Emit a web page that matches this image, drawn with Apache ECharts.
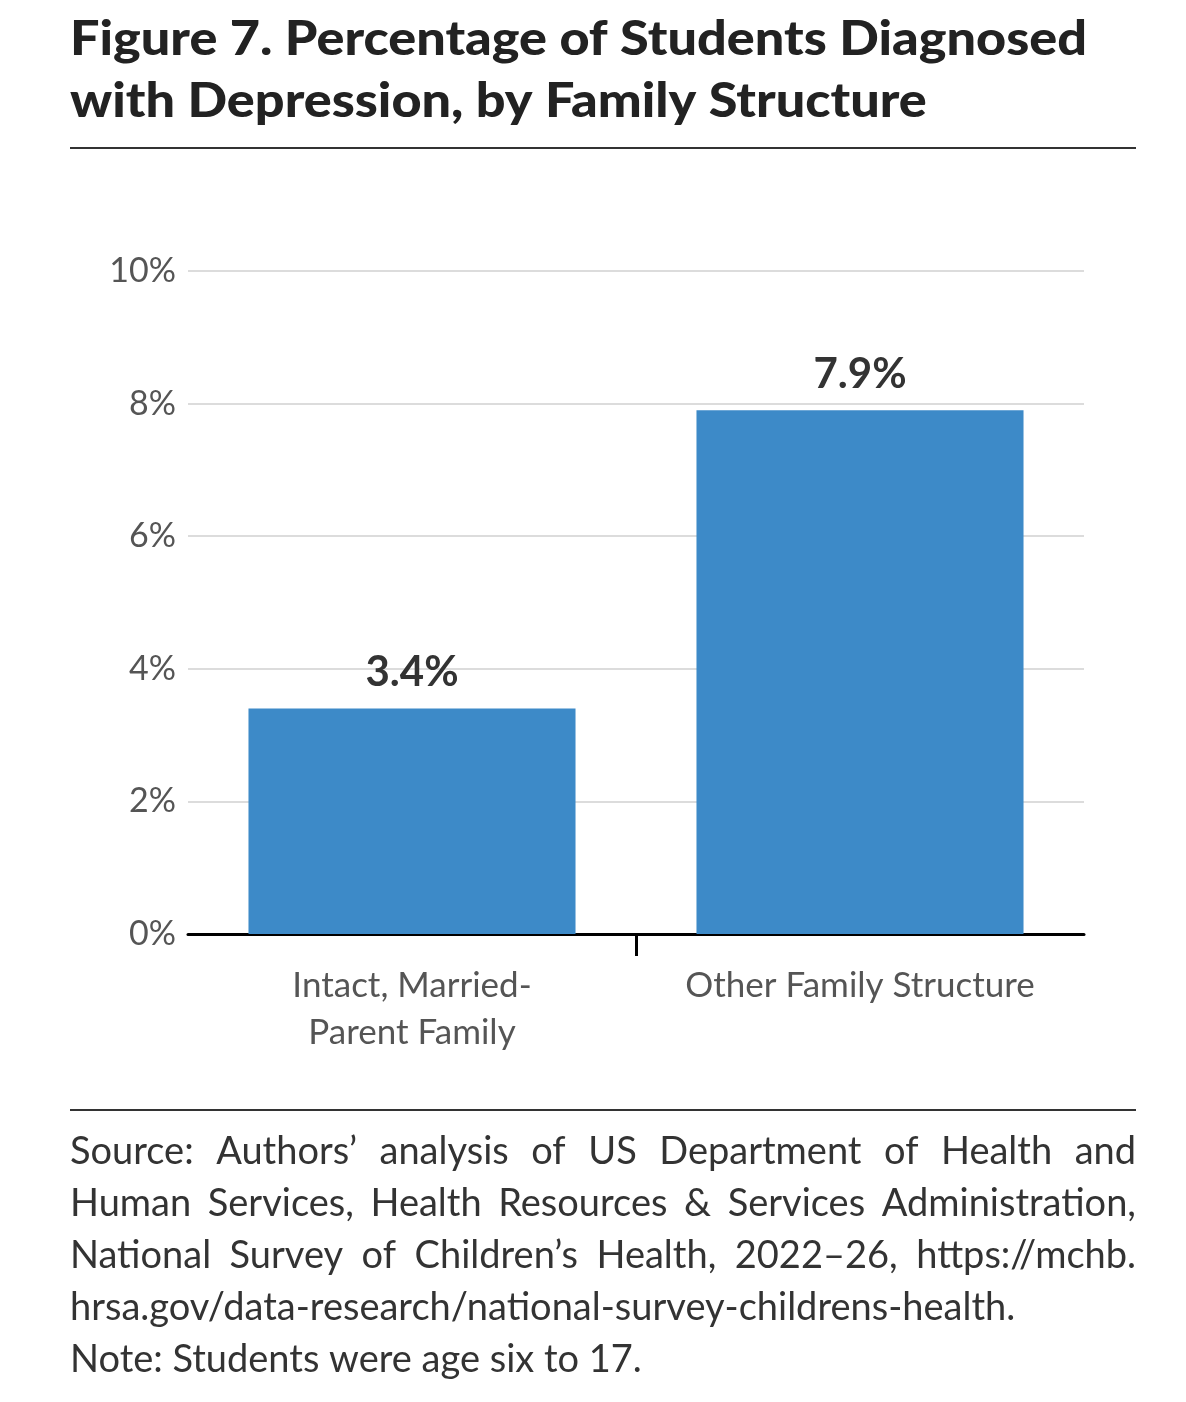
<!DOCTYPE html>
<html>
<head>
<meta charset="utf-8">
<script src="https://cdn.jsdelivr.net/npm/echarts@6/dist/echarts.min.js"></script>
<style>
  html, body { margin: 0; padding: 0; background: #fff; }
  #chart { width: 1186px; height: 1402px; }
</style>
</head>
<body>
<div id="chart"></div>
<script>
// data
var categories = ['Intact, Married-\nParent Family', 'Other Family Structure'];
var values = [3.4, 7.9];
var yTicks = [0, 2, 4, 6, 8, 10];

var titleLines = [
  'Figure 7. Percentage of Students Diagnosed',
  'with Depression, by Family Structure'
];
var sourceLines = [
  'Source: Authors\u2019 analysis of US Department of Health and',
  'Human Services, Health Resources & Services Administration,',
  'National Survey of Children\u2019s Health, 2022\u201326, https://mchb.',
  'hrsa.gov/data-research/national-survey-childrens-health.',
  'Note: Students were age six to 17.'
];

var FONT = 'Lato, "Noto Sans", sans-serif';
var textLeft = 70, textRight = 1136;

var ctx = document.createElement('canvas').getContext('2d');

// title: stretch a little so the first line spans like the original
var titleFont = '900 47px ' + FONT;
ctx.font = titleFont;
var titleScale = 1017 / ctx.measureText(titleLines[0]).width;
var titleGraphics = titleLines.map(function (line, i) {
  return {
    type: 'text', x: textLeft, y: 40 + i * 62, scaleX: titleScale,
    style: { text: line, font: titleFont, fill: '#222', textVerticalAlign: 'middle' }
  };
});

// justified source lines: spread the words over the full width
var srcSize = 38;
var srcFont = srcSize + 'px ' + FONT;
ctx.font = srcFont;
var srcGraphics = [];
sourceLines.forEach(function (line, i) {
  var y = 1152 + i * 52;
  var last = (i == 3 || i == sourceLines.length - 1);
  var words = last ? [line] : line.split(' ');
  var total = 0;
  words.forEach(function (w) { total += ctx.measureText(w).width; });
  var gap = words.length > 1 ? (textRight - textLeft - total) / (words.length - 1) : 0;
  var x = textLeft;
  words.forEach(function (w) {
    srcGraphics.push({
      type: 'text', x: x, y: y,
      style: { text: w, font: srcFont, fill: '#333', textVerticalAlign: 'middle' }
    });
    x += ctx.measureText(w).width + gap;
  });
});

var myChart = echarts.init(document.getElementById('chart'));
var option = {
  backgroundColor: '#fff',
  animation: false,
  grid: { left: 188, right: 102, top: 271, bottom: 468 },
  xAxis: [{
    type: 'category',
    data: categories,
    axisLine: { lineStyle: { color: '#000', width: 3 } },
    axisTick: { show: false },
    axisLabel: {
      interval: 0,
      color: '#555', fontFamily: FONT, fontSize: 35,
      lineHeight: 47, margin: 28
    }
  }, {
    // only the tick between the two bars
    type: 'value', position: 'bottom', min: 0, max: 2,
    axisLine: { show: false },
    axisLabel: { show: false },
    splitLine: { show: false },
    axisTick: {
      show: true, length: 22, customValues: [1],
      lineStyle: { color: '#000', width: 3 }
    }
  }],
  yAxis: {
    type: 'value',
    min: yTicks[0], max: yTicks[yTicks.length - 1], interval: 2,
    axisLine: { show: false },
    axisTick: { show: false },
    splitLine: { lineStyle: { color: '#dcdcdc', width: 2 } },
    axisLabel: {
      color: '#555', fontFamily: FONT, fontSize: 34, margin: 12,
      formatter: '{value}%'
    }
  },
  series: [{
    type: 'bar',
    data: values,
    barWidth: '73%',
    itemStyle: { color: '#3d8ac8' },
    label: {
      show: true, position: 'top', distance: 15,
      formatter: '{c}%',
      color: '#333', fontFamily: FONT, fontSize: 42, fontWeight: 'bold'
    }
  }],
  graphic: [
    {
      type: 'line', shape: { x1: textLeft, y1: 148, x2: textRight, y2: 148 },
      style: { stroke: '#333', lineWidth: 2 }
    },
    {
      type: 'line', shape: { x1: textLeft, y1: 1110, x2: textRight, y2: 1110 },
      style: { stroke: '#333', lineWidth: 2 }
    }
  ].concat(titleGraphics, srcGraphics)
};
myChart.setOption(option);
</script>
</body>
</html>
